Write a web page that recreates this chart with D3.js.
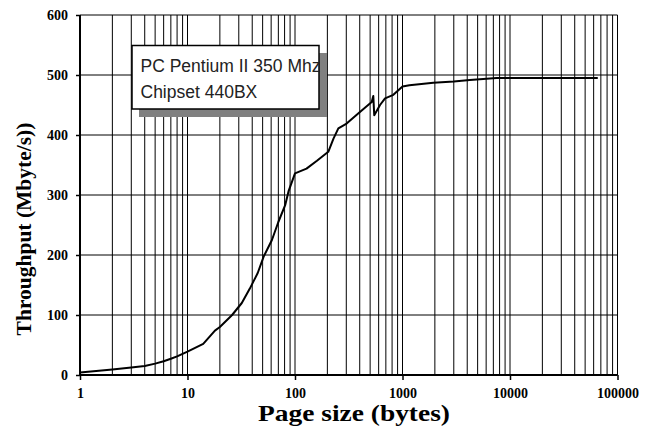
<!DOCTYPE html>
<html>
<head>
<meta charset="utf-8">
<script src="https://cdn.jsdelivr.net/npm/d3@7"></script>
<style>
  body { margin: 0; background: #fff; }
  svg { display: block; }
  .tick text { font-family: "Liberation Serif", "Times New Roman", serif; font-weight: bold; font-size: 14px; fill: #000; }
</style>
</head>
<body>
<script>

// page size (bytes)
var pageSizes = [1, 2, 3, 4, 5, 6, 7, 8, 10, 14, 18, 20, 26, 32, 38, 45, 51, 61, 70, 81, 87, 100,
                 128, 160, 204, 228, 253, 302, 387, 450, 517, 535, 546, 618, 688, 822, 1000,
                 1160, 1500, 1935, 3000, 4230, 7500, 15000, 30000, 65536];
// throughput (Mbyte/s)
var throughput = [4, 9, 12.5, 15, 19, 23, 27, 31, 39, 52, 74, 80, 100, 120, 144, 170, 197, 225, 255, 283, 306, 336,
                  344, 357, 372, 394, 411, 419, 436, 446, 455, 465, 433, 450, 461, 467, 481,
                  483, 485, 487, 489, 491.5, 495, 495, 495, 495];

var xTickValues = [1, 10, 100, 1000, 10000, 100000];
var yTickValues = [0, 100, 200, 300, 400, 500, 600];
var legendLines = ["PC Pentium II 350 Mhz", "Chipset 440BX"];

var W = 652, H = 440;
var margin = { top: 15, right: 34.5, bottom: 65, left: 80 },
    width = W - margin.left - margin.right,
    height = H - margin.top - margin.bottom;

var svg = d3.select("body").append("svg")
    .attr("width", W)
    .attr("height", H);

var g = svg.append("g")
    .attr("transform", "translate(" + margin.left + "," + margin.top + ")");

var x = d3.scaleLog().domain([1, 100000]).range([0, width]);
var y = d3.scaleLinear().domain([0, 600]).range([height, 0]);

// grid: every log minor line and every 100 on y
g.append("g").selectAll("line.v")
    .data(x.ticks())
    .enter().append("line")
    .attr("x1", function (d) { return x(d); })
    .attr("x2", function (d) { return x(d); })
    .attr("y1", 0).attr("y2", height)
    .attr("stroke", "#000").attr("stroke-width", 1);

g.append("g").selectAll("line.h")
    .data(yTickValues)
    .enter().append("line")
    .attr("x1", 0).attr("x2", width)
    .attr("y1", function (d) { return y(d); })
    .attr("y2", function (d) { return y(d); })
    .attr("stroke", "#000").attr("stroke-width", 1);

// axes
var xAxis = d3.axisBottom(x)
    .tickValues(xTickValues)
    .tickFormat(d3.format("d"))
    .tickSize(5)
    .tickPadding(8);

var yAxis = d3.axisLeft(y)
    .tickValues(yTickValues)
    .tickSize(4)
    .tickPadding(8);

var gx = g.append("g")
    .attr("transform", "translate(0," + height + ")")
    .call(xAxis);
gx.select(".domain").attr("stroke-width", 2).attr("d", "M0,0H" + width);
gx.selectAll(".tick line").attr("stroke-width", 1.5);

var gy = g.append("g").call(yAxis);
gy.select(".domain").attr("stroke-width", 2).attr("d", "M0," + height + "V0");
gy.selectAll(".tick line").attr("stroke-width", 1.5);

// curve
var line = d3.line()
    .x(function (d, i) { return x(pageSizes[i]); })
    .y(function (d) { return y(d); });

g.append("path")
    .attr("d", line(throughput))
    .attr("fill", "none")
    .attr("stroke", "#000")
    .attr("stroke-width", 2)
    .attr("stroke-linejoin", "round");

// legend box with shadow
var lg = svg.append("g");
lg.append("rect")
    .attr("x", 139).attr("y", 53)
    .attr("width", 188).attr("height", 64)
    .attr("fill", "#808080");
lg.append("rect")
    .attr("x", 132).attr("y", 45.5)
    .attr("width", 187).attr("height", 63.5)
    .attr("fill", "#fff")
    .attr("stroke", "#000")
    .attr("stroke-width", 1.5);
lg.selectAll("text")
    .data(legendLines)
    .enter().append("text")
    .attr("x", 140.5)
    .attr("y", function (d, i) { return 71.5 + i * 26.6; })
    .attr("font-family", "'Liberation Sans', Arial, sans-serif")
    .attr("font-size", 17.5)
    .attr("fill", "#222")
    .text(function (d) { return d; });

// axis titles
svg.append("text")
    .attr("x", 258)
    .attr("y", 421)
    .attr("textLength", 192)
    .attr("lengthAdjust", "spacingAndGlyphs")
    .attr("font-family", "'Liberation Serif', 'Times New Roman', serif")
    .attr("font-weight", "bold")
    .attr("font-size", 23)
    .text("Page size (bytes)");

svg.append("text")
    .attr("transform", "translate(31,229) rotate(-90)")
    .attr("text-anchor", "middle")
    .attr("font-family", "'Liberation Serif', 'Times New Roman', serif")
    .attr("font-weight", "bold")
    .attr("font-size", 21.5)
    .text("Throughput (Mbyte/s))");

</script>
</body>
</html>
